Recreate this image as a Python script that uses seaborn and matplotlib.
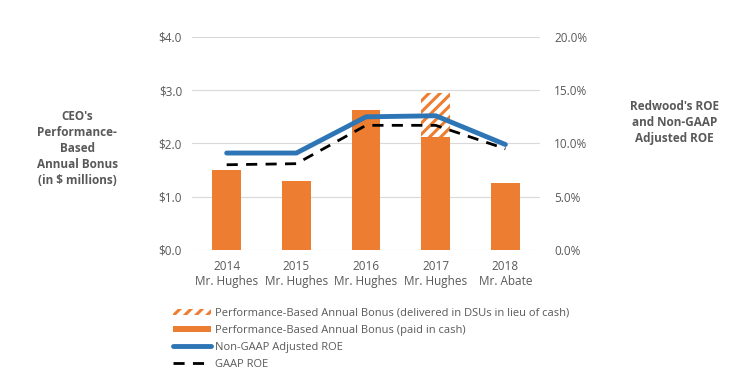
import numpy as np
import pandas as pd
import seaborn as sns
import matplotlib.pyplot as plt
from matplotlib.patches import Patch
from matplotlib.lines import Line2D
from matplotlib.ticker import FuncFormatter

years = ['2014', '2015', '2016', '2017', '2018']
ceos = ['Mr. Hughes', 'Mr. Hughes', 'Mr. Hughes', 'Mr. Hughes', 'Mr. Abate']
bonus_cash = [1.50, 1.30, 2.62, 2.13, 1.26]
bonus_dsu = [0.0, 0.0, 0.0, 0.82, 0.0]
roe_nongaap = [9.1, 9.1, 12.5, 12.6, 9.9]
roe_gaap = [8.0, 8.1, 11.7, 11.7, 9.5]

ORANGE = '#ED7D31'
BLUE = '#2E75B6'
GREY = '#595959'

sns.set_style('white')
plt.rcParams['font.family'] = ['Open Sans', 'DejaVu Sans']
plt.rcParams['hatch.linewidth'] = 2.2

labels = [y + '\n' + c for y, c in zip(years, ceos)]
df = pd.DataFrame({'label': labels,
                   'cash': bonus_cash,
                   'total': np.array(bonus_cash) + np.array(bonus_dsu),
                   'pos': np.arange(len(years)),
                   'nongaap': roe_nongaap,
                   'gaap': roe_gaap})

fig = plt.figure(figsize=(7.35, 3.77), dpi=100)
ax = fig.add_axes([0.261, 0.337, 0.474, 0.565])

# hatched total (DSU part shows above cash bar)
sns.barplot(data=df, x='label', y='total', ax=ax, color='white', width=0.41,
            edgecolor=ORANGE, linewidth=0, hatch='///', saturation=1, zorder=2)
sns.barplot(data=df, x='label', y='cash', ax=ax, color=ORANGE, width=0.41,
            linewidth=0, saturation=1, zorder=3)

ax.set_ylim(0, 4)
ax.set_yticks([0, 1, 2, 3, 4])
ax.yaxis.set_major_formatter(FuncFormatter(lambda v, p: '${:.1f}'.format(v)))
ax.grid(axis='y', color='#D9D9D9', linewidth=0.8, zorder=0)
ax.set_axisbelow(True)
for s in ax.spines.values():
    s.set_visible(False)
ax.set_xlabel('')
ax.set_ylabel('')
ax.tick_params(axis='both', length=0, labelsize=8.5, labelcolor=GREY, pad=7)

ax2 = ax.twinx()
sns.lineplot(data=df, x='pos', y='nongaap', ax=ax2, color=BLUE, linewidth=3.5,
             sort=False, zorder=4)
sns.lineplot(data=df, x='pos', y='gaap', ax=ax2, color='black', linewidth=2,
             sort=False, zorder=5, dashes=False)
ax2.lines[-1].set_dashes((4, 3))
ax2.set_ylim(0, 20)
ax2.set_yticks([0, 5, 10, 15, 20])
ax2.yaxis.set_major_formatter(FuncFormatter(lambda v, p: '{:.1f}%'.format(v)))
for s in ax2.spines.values():
    s.set_visible(False)
ax2.set_ylabel('')
ax2.set_xlabel('')
ax2.tick_params(axis='y', length=0, labelsize=8.5, labelcolor=GREY, pad=10)
ax.set_xlim(-0.5, len(years) - 0.5)

fig.text(0.105, 0.605, "CEO's\nPerformance-\nBased\nAnnual Bonus\n(in $ millions)",
         ha='center', va='center', fontsize=8.5, fontweight='bold', color=GREY,
         linespacing=1.3)
fig.text(0.918, 0.674, "Redwood's ROE\nand Non-GAAP\nAdjusted ROE",
         ha='center', va='center', fontsize=8.5, fontweight='bold', color=GREY,
         linespacing=1.3)

handles = [
    Patch(facecolor='white', edgecolor=ORANGE, hatch='///', linewidth=0),
    Patch(facecolor=ORANGE, linewidth=0),
    Line2D([], [], color=BLUE, linewidth=3.5),
    Line2D([], [], color='black', linewidth=2, dashes=(4, 3)),
]
names = ['Performance-Based Annual Bonus (delivered in DSUs in lieu of cash)',
         'Performance-Based Annual Bonus (paid in cash)',
         'Non-GAAP Adjusted ROE',
         'GAAP ROE']
leg = fig.legend(handles, names, loc='upper left', bbox_to_anchor=(0.236, 0.184),
                 frameon=False, fontsize=8, labelcolor=GREY, handlelength=3.4,
                 handleheight=0.45, handletextpad=0.3, labelspacing=0.55,
                 borderaxespad=0, borderpad=0)

fig.savefig('out.png', dpi=100)
